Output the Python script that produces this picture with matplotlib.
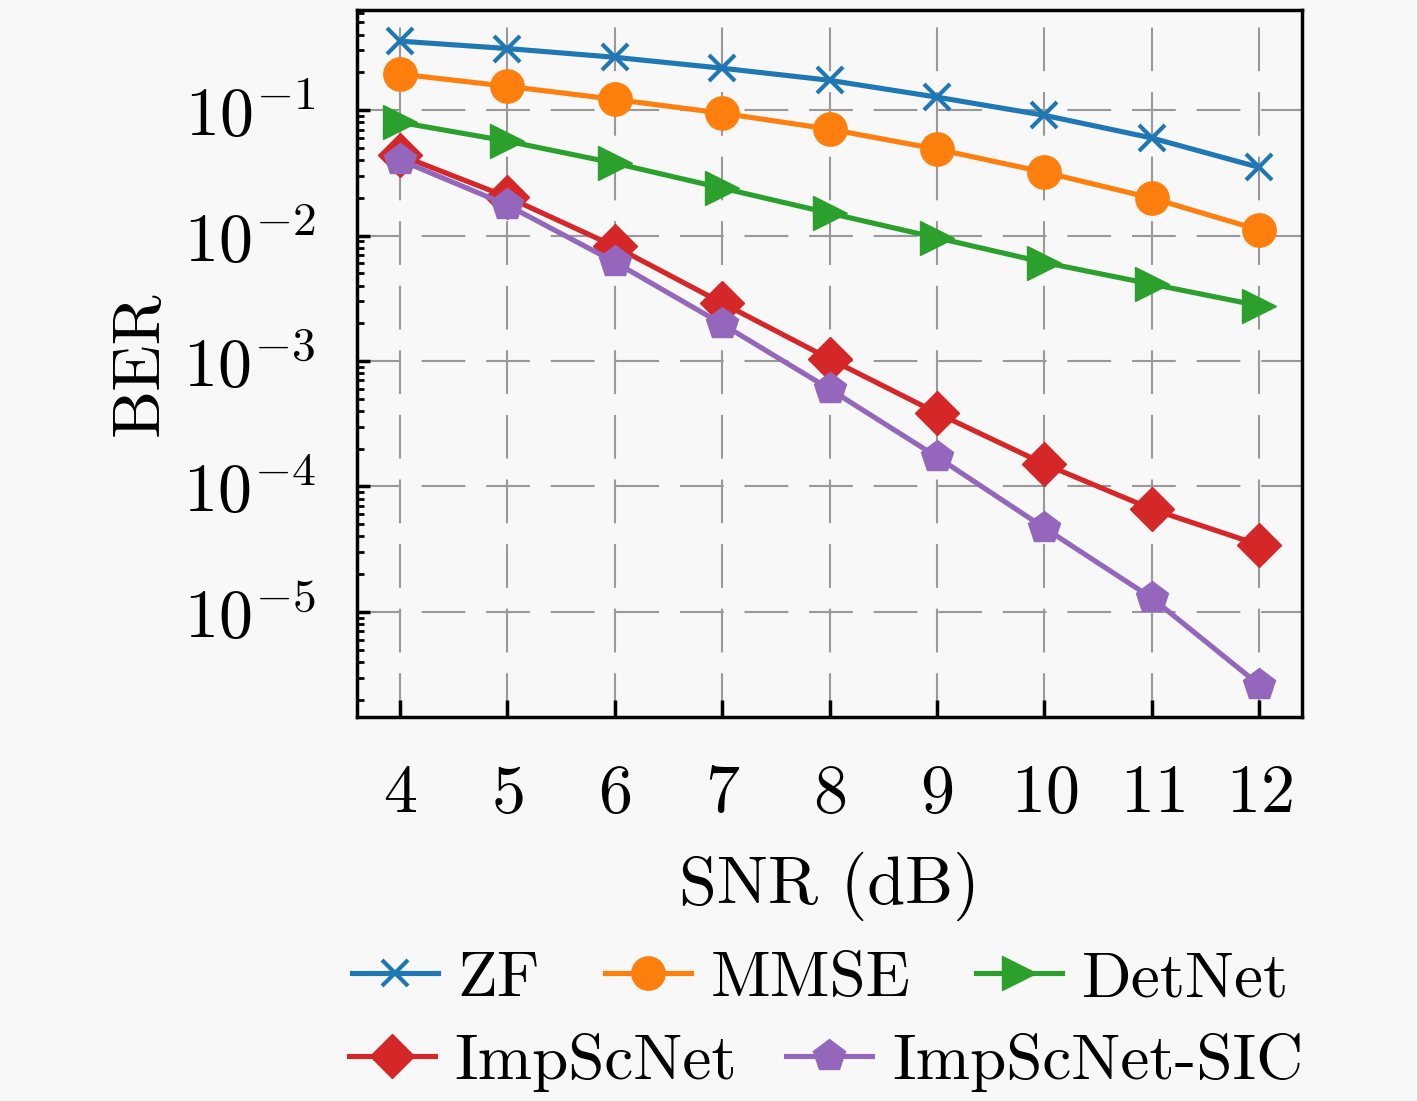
import matplotlib
matplotlib.use("Agg")
import matplotlib.pyplot as plt
from matplotlib.ticker import LogLocator

plt.rcParams['font.family'] = 'serif'
plt.rcParams['font.serif'] = ['cmr10', 'DejaVu Serif']
plt.rcParams['mathtext.fontset'] = 'cm'
plt.rcParams['axes.formatter.use_mathtext'] = True

snr = [4, 5, 6, 7, 8, 9, 10, 11, 12]
ber_zf = [0.355, 0.31, 0.264, 0.216, 0.173, 0.127, 0.091, 0.060, 0.035]
ber_mmse = [0.194, 0.155, 0.122, 0.0946, 0.0706, 0.0489, 0.032, 0.0199, 0.0111]
ber_detnet = [0.080, 0.0566, 0.0378, 0.0239, 0.0151, 0.0096, 0.0061, 0.0041, 0.00276]
ber_impscnet = [0.0438, 0.0203, 0.0082, 0.0029, 0.00104, 3.85e-4, 1.51e-4, 6.6e-5, 3.42e-5]
ber_sic = [0.040, 0.0175, 0.00615, 0.00197, 5.98e-4, 1.72e-4, 4.67e-5, 1.29e-5, 2.62e-6]

fig = plt.figure(figsize=(14.17, 11.01), dpi=100, facecolor='#f8f8f8')
ax = fig.add_axes([0.252, 0.349, 0.667, 0.642])
ax.set_facecolor('#f8f8f8')

lw = 3.7
h_zf, = ax.plot(snr, ber_zf, color='#1f77b4', lw=lw, marker='x', ms=19, mew=3, label='ZF')
h_mmse, = ax.plot(snr, ber_mmse, color='#ff7f0e', lw=lw, marker='o', ms=24, label='MMSE')
h_det, = ax.plot(snr, ber_detnet, color='#2ca02c', lw=lw, marker='>', ms=24, label='DetNet')
h_imp, = ax.plot(snr, ber_impscnet, color='#d62728', lw=lw, marker='D', ms=22, label='ImpScNet')
h_sic, = ax.plot(snr, ber_sic, color='#9467bd', lw=lw, marker='p', ms=24, label='ImpScNet-SIC')

ax.set_yscale('log')
ax.set_xlim(3.6, 12.4)
ax.set_ylim(1.46e-6, 0.63)
ax.set_xticks(snr)
ax.set_yticks([1e-5, 1e-4, 1e-3, 1e-2, 1e-1])
ax.yaxis.set_minor_locator(LogLocator(base=10, subs=range(2, 10), numticks=20))
ax.yaxis.set_minor_formatter(plt.NullFormatter())
ax.tick_params(axis='both', which='major', direction='in', width=2.5, labelsize=49)
ax.tick_params(axis='x', which='major', length=12, pad=34)
ax.tick_params(axis='y', which='major', length=9, pad=30)
ax.tick_params(axis='y', which='minor', direction='in', length=5, width=2)
ax.grid(True, which='major', ls=(0, (21, 10)), color='#999999', lw=1.5)
for s in ax.spines.values():
    s.set_linewidth(2.5)

ax.set_xlabel('SNR (dB)', fontsize=49, labelpad=19)
ax.set_ylabel('BER', fontsize=49, labelpad=8)

# two legend rows, each centred on its own
leg_kw = dict(loc='center', frameon=False, fontsize=47, handlelength=1.32,
              handletextpad=0.3, borderpad=0.1)
leg1 = fig.legend([h_zf, h_mmse, h_det], ['ZF', 'MMSE', 'DetNet'], ncol=3,
                  bbox_to_anchor=(0.579, 0.110), columnspacing=1.0, **leg_kw)
leg2 = fig.legend([h_imp, h_sic], ['ImpScNet', 'ImpScNet-SIC'], ncol=2,
                  bbox_to_anchor=(0.583, 0.035), columnspacing=0.75, **leg_kw)

fig.savefig('out.png', dpi=100, facecolor=fig.get_facecolor())
